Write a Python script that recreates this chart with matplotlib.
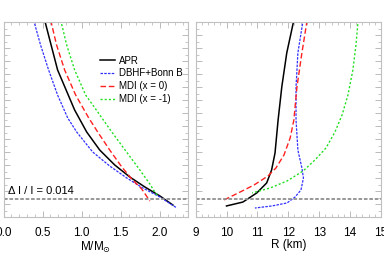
import matplotlib
matplotlib.use("Agg")
import matplotlib.pyplot as plt
from matplotlib.ticker import MultipleLocator, NullFormatter

plt.rcParams['font.family'] = ['Liberation Sans', 'DejaVu Sans']

# ---- data (left panel: vs mass) ----
apr_m = [0.526, 0.692, 0.910, 1.064, 1.231, 1.423, 1.615, 1.808, 2.0, 2.167]
apr_dm = [0.1515, 0.1131, 0.0823, 0.0654, 0.0515, 0.0400, 0.0308, 0.0231, 0.0162, 0.0092]

dbhf_m = [0.385, 0.474, 0.577, 0.692, 0.821, 0.936, 1.141, 1.359, 1.577, 1.782, 2.0, 2.218]
dbhf_dm = [0.1515, 0.1323, 0.1131, 0.0938, 0.0762, 0.0654, 0.0500, 0.0392, 0.0300, 0.0223, 0.0154, 0.0069]

mdi0_m = [0.603, 0.679, 0.782, 0.923, 1.090, 1.205, 1.359, 1.513, 1.641, 1.769, 1.872]
mdi0_dm = [0.1515, 0.1323, 0.1131, 0.0938, 0.0762, 0.0654, 0.0515, 0.0385, 0.0292, 0.0215, 0.0123]

mdi1_m = [0.731, 0.808, 0.910, 1.051, 1.205, 1.385, 1.564, 1.744, 1.872, 1.936, 1.974]
mdi1_dm = [0.1515, 0.1323, 0.1131, 0.0938, 0.0808, 0.0654, 0.0508, 0.0362, 0.0254, 0.0192, 0.0162]

# ---- data (right panel: vs radius) ----
apr_r = [12.18, 11.95, 11.79, 11.67, 11.57, 11.46, 11.30, 10.98, 10.53, 10.0]
apr_dr = [0.1515, 0.1262, 0.1002, 0.0746, 0.0492, 0.0362, 0.0262, 0.0185, 0.0115, 0.0085]

dbhf_r = [12.48, 12.31, 12.25, 12.25, 12.31, 12.44, 12.49, 12.41, 12.22, 11.96, 11.47, 10.92]
dbhf_dr = [0.1515, 0.1262, 0.1, 0.0746, 0.0515, 0.0377, 0.030, 0.0208, 0.0154, 0.0108, 0.0085, 0.0069]

mdi0_r = [12.61, 12.44, 12.28, 12.18, 12.06, 11.86, 11.60, 11.34, 10.89, 10.44, 9.92]
mdi0_dr = [0.1515, 0.1262, 0.1, 0.0746, 0.0608, 0.0477, 0.0377, 0.0315, 0.0246, 0.0192, 0.0131]

mdi1_r = [14.26, 14.19, 14.09, 13.93, 13.74, 13.51, 13.22, 12.86, 12.48, 11.96, 11.41, 10.83]
mdi1_dr = [0.1515, 0.1323, 0.1131, 0.0938, 0.0785, 0.0654, 0.0531, 0.0438, 0.0354, 0.0277, 0.0223, 0.0185]

labels = ["APR", "DBHF+Bonn B", "MDI (x = 0)", "MDI (x = -1)"]
threshold = 0.014

colors = ["black", "#3030ff", "#ff2020", "#20e020"]
styles = ["-", (0, (2, 1)), (0, (4, 2)), (0, (1.5, 1.5))]
widths = [1.1, 0.9, 1.0, 1.0]

fig = plt.figure(figsize=(3.84, 2.64), dpi=100)
axL = fig.add_axes([3.5/384, 1-217/264, (188-3.5)/384, 195/264])
axR = fig.add_axes([195.6/384, 1-217/264, (381-195.6)/384, 195/264])

left_data = [(apr_m, apr_dm), (dbhf_m, dbhf_dm), (mdi0_m, mdi0_dm), (mdi1_m, mdi1_dm)]
right_data = [(apr_r, apr_dr), (dbhf_r, dbhf_dr), (mdi0_r, mdi0_dr), (mdi1_r, mdi1_dr)]

for (x, y), c, s, w, lab in zip(left_data, colors, styles, widths, labels):
    axL.plot(x, y, color=c, ls=s, lw=w, label=lab)
for (x, y), c, s, w in zip(right_data, colors, styles, widths):
    axR.plot(x, y, color=c, ls=s, lw=w)

for ax in (axL, axR):
    ax.axhline(threshold, color="#909090", lw=1.3, ls=(0, (2, 1)))
    ax.set_ylim(0, 0.15)
    ax.yaxis.set_major_locator(MultipleLocator(0.01))
    ax.yaxis.set_minor_locator(MultipleLocator(0.005))
    ax.yaxis.set_major_formatter(NullFormatter())
    ax.tick_params(which="both", direction="in", top=True, right=True,
                   color="#b0b0b0", labelsize=8.5, pad=7)
    ax.tick_params(which="major", length=4, width=0.6)
    ax.tick_params(which="minor", length=2, width=0.5)
    for sp in ax.spines.values():
        sp.set_color("#c0c0c0")
        sp.set_linewidth(0.8)

axL.set_xlim(0, 2.36)
axL.xaxis.set_major_locator(MultipleLocator(0.5))
axL.xaxis.set_minor_locator(MultipleLocator(0.1))
axL.set_xlabel("M/M$_{\\odot}$", fontsize=8.5, labelpad=0.5)

axR.set_xlim(9, 15)
axR.xaxis.set_major_locator(MultipleLocator(1))
axR.xaxis.set_minor_locator(MultipleLocator(0.2))
axR.set_xlabel("R (km)", fontsize=8.5, labelpad=0.5)

axL.text(0.06, 0.0177, "\u0394 I / I = 0.014", fontsize=8, ha="left", va="baseline")

axL.legend(loc="upper left", bbox_to_anchor=(0.523, 0.828), frameon=False,
           fontsize=7, handlelength=1.55, handletextpad=0.4, labelspacing=0.3,
           borderaxespad=0, borderpad=0)

fig.savefig("out.png", dpi=100)
